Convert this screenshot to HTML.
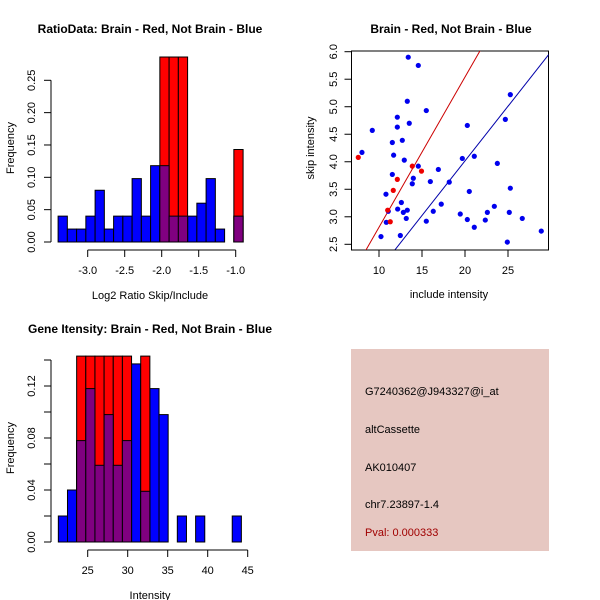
<!DOCTYPE html>
<html><head><meta charset="utf-8"><style>
body{margin:0;background:#fff}
svg{display:block;font-family:"Liberation Sans",sans-serif}
</style></head><body>
<svg id="c" width="600" height="600" viewBox="0 0 600 600" xmlns="http://www.w3.org/2000/svg"></svg>
<script>
// ---- Panel 1: ratio histogram ----
const ratioBreakStart = -3.4;
const ratioBinWidth = 0.125;
const ratioBlue = [0.04,0.02,0.02,0.04,0.08,0.02,0.04,0.04,0.098,0.04,0.118,0.118,0.04,0.04,0.04,0.06,0.098,0.02,0,0.04];
const ratioRed  = [0,0,0,0,0,0,0,0,0,0,0,0.286,0.286,0.286,0,0,0,0,0,0.143];
const ratioXTicks = [-3.0,-2.5,-2.0,-1.5,-1.0];
const ratioXTickLabels = ["-3.0","-2.5","-2.0","-1.5","-1.0"];
const ratioYTicks = [0,0.05,0.10,0.15,0.20,0.25];
const ratioYTickLabels = ["0.00","0.05","0.10","0.15","0.20","0.25"];
// ---- Panel 2: scatter ----
const blueX = [8.02,9.22,10.23,10.81,10.85,11.08,11.55,11.55,11.7,12.13,12.13,12.17,12.48,12.6,12.71,12.83,12.94,13.17,13.29,13.29,13.4,13.52,13.87,13.99,14.57,14.57,15.5,15.5,15.97,16.31,16.9,17.24,18.17,19.45,19.69,20.27,20.27,20.5,21.08,21.08,22.36,22.6,23.41,23.76,24.69,24.92,25.15,25.27,25.27,26.66,28.87];
const blueY = [4.17,4.57,2.64,3.41,2.90,3.10,4.35,3.77,4.12,4.81,4.63,3.14,2.66,3.26,4.39,3.08,4.03,2.97,3.12,5.10,5.90,4.70,3.60,3.70,3.92,5.75,4.93,2.92,3.64,3.10,3.86,3.23,3.63,3.05,4.06,4.66,2.95,3.46,4.10,2.81,2.94,3.08,3.19,3.97,4.77,2.54,3.08,3.52,5.22,2.97,2.74];
const redX = [7.59,11.31,11.01,11.66,12.13,13.87,14.94];
const redY = [4.08,2.91,3.12,3.48,3.68,3.92,3.83];
const redLine = [0.08,0.273];   // intercept, slope
const blueLine = [0.046,0.1985];
const scatXTicks = [10,15,20,25];
const scatXTickLabels = ["10","15","20","25"];
const scatYTicks = [2.5,3.0,3.5,4.0,4.5,5.0,5.5,6.0];
const scatYTickLabels = ["2.5","3.0","3.5","4.0","4.5","5.0","5.5","6.0"];
// ---- Panel 3: intensity histogram ----
const intBreakStart = 21.33;
const intBinWidth = 1.144;
const intBlue = [0.02,0.04,0.078,0.118,0.059,0.098,0.059,0.078,0.137,0.039,0.118,0.098,0,0.02,0,0.02,0,0,0,0.02];
const intRed  = [0,0,0.143,0.143,0.143,0.143,0.143,0.143,0,0.143,0,0,0,0,0,0,0,0,0,0];
const intXTicks = [25,30,35,40,45];
const intXTickLabels = ["25","30","35","40","45"];
const intYTicks = [0,0.02,0.04,0.06,0.08,0.10,0.12,0.14];
const intYTickLabels = ["0.00","","0.04","","0.08","","0.12",""];

const NS="http://www.w3.org/2000/svg";
const svg=document.getElementById('c');
function mk(tag,attrs,parent,txt){const e=document.createElementNS(NS,tag);for(const k in attrs)e.setAttribute(k,attrs[k]);if(txt!==undefined)e.textContent=txt;(parent||svg).appendChild(e);return e;}
function lin(d0,d1,p0,p1){return v=>p0+(v-d0)*(p1-p0)/(d1-d0);}

function text(x,y,s,opt,parent,name){
  const t=mk('text',Object.assign({x:x,y:y,'font-size':11,'text-anchor':'middle',fill:'#000'},opt||{}),parent,s);
  
  
  return t;
}

function xAxis(g,sx,ticks,labels,y,lblY){
  const ax=mk('g',{},g);
  
  
  mk('line',{x1:sx(ticks[0]),x2:sx(ticks[ticks.length-1]),y1:y,y2:y,stroke:'#000'},ax);
  ticks.forEach((t,i)=>{
    mk('line',{x1:sx(t),x2:sx(t),y1:y,y2:y+7,stroke:'#000'},ax);
    if(labels[i])text(sx(t),lblY,labels[i],{},ax,'x-tick-label');
  });
}
function yAxis(g,sy,ticks,labels,x,lblX){
  const ax=mk('g',{},g);
  
  
  mk('line',{x1:x,x2:x,y1:sy(ticks[0]),y2:sy(ticks[ticks.length-1]),stroke:'#000'},ax);
  ticks.forEach((t,i)=>{
    mk('line',{x1:x-7,x2:x,y1:sy(t),y2:sy(t),stroke:'#000'},ax);
    if(labels[i])text(lblX,sy(t),labels[i],{transform:`rotate(-90 ${lblX} ${sy(t)})`},ax,'y-tick-label');
  });
}
function hist(g,sx,sy,start,w,blue,red){
  const bars=(vals,color,name)=>vals.forEach((v,i)=>{
    if(v<=0)return;
    const x0=sx(start+i*w),x1=sx(start+(i+1)*w);
    const r=mk('rect',{x:x0,y:sy(v),width:x1-x0,height:sy(0)-sy(v),fill:color,stroke:'#000','stroke-width':1},g);
    
    
  });
  bars(blue,'#0000ff','bar-not-brain');
  bars(red,'#ff0000','bar-brain');
  bars(blue.map((b,i)=>Math.min(b,red[i])),'#800080','bar-overlap');
}

// Panel 1
{
  const g=mk('g',{});
  
  
  const sx=lin(-3,-1,87.7,235.7), sy=lin(0,0.25,242,80.3);
  hist(g,sx,sy,ratioBreakStart,ratioBinWidth,ratioBlue,ratioRed);
  xAxis(g,sx,ratioXTicks,ratioXTickLabels,250,274);
  yAxis(g,sy,ratioYTicks,ratioYTickLabels,51,35);
  text(150,33,'RatioData: Brain - Red, Not Brain - Blue',{'font-size':12,'font-weight':'bold'},g,'ratio-title');
  text(150,299,'Log2 Ratio Skip/Include',{},g,'ratio-x-title');
  text(14,148,'Frequency',{transform:'rotate(-90 14 148)'},g,'ratio-y-title');
}
// Panel 2
{
  const g=mk('g',{});
  
  
  const sx=lin(10,25,379,508), sy=lin(2.5,6.0,244.3,51.7);
  const box=mk('rect',{x:351.5,y:51,width:197,height:199,fill:'none',stroke:'#000'},g);
  
  
  const clip=mk('clipPath',{id:'cp'},g);
  mk('rect',{x:351.5,y:51,width:197,height:199},clip);
  const lg=mk('g',{'clip-path':'url(#cp)'},g);
  const xa=6.5,xb=30;
  const l1=mk('line',{x1:sx(xa),y1:sy(redLine[0]+redLine[1]*xa),x2:sx(xb),y2:sy(redLine[0]+redLine[1]*xb),stroke:'#cc0000'},lg);
  
  
  const l2=mk('line',{x1:sx(xa),y1:sy(blueLine[0]+blueLine[1]*xa),x2:sx(xb),y2:sy(blueLine[0]+blueLine[1]*xb),stroke:'#0000aa'},lg);
  
  
  blueX.forEach((x,i)=>{const c=mk('circle',{cx:sx(x),cy:sy(blueY[i]),r:2.6,fill:'#0000ee'},g);
    
    });
  redX.forEach((x,i)=>{const c=mk('circle',{cx:sx(x),cy:sy(redY[i]),r:2.6,fill:'#ee0000'},g);
    
    });
  xAxis(g,sx,scatXTicks,scatXTickLabels,250,274);
  yAxis(g,sy,scatYTicks,scatYTickLabels,351.5,337);
  text(451,33,'Brain - Red, Not Brain - Blue',{'font-size':12,'font-weight':'bold'},g,'scatter-title');
  text(449,298,'include intensity',{},g,'scatter-x-title');
  text(314,148,'skip intensity',{transform:'rotate(-90 314 148)'},g,'scatter-y-title');
}
// Panel 3
{
  const g=mk('g',{});
  
  
  const sx=lin(25,45,87.7,247.7), sy=lin(0,0.12,542,386);
  hist(g,sx,sy,intBreakStart,intBinWidth,intBlue,intRed);
  xAxis(g,sx,intXTicks,intXTickLabels,550,574);
  yAxis(g,sy,intYTicks,intYTickLabels,51,35);
  text(150,333,'Gene Itensity: Brain - Red, Not Brain - Blue',{'font-size':12,'font-weight':'bold'},g,'intensity-title');
  text(150,599,'Intensity',{},g,'intensity-x-title');
  text(14,448,'Frequency',{transform:'rotate(-90 14 448)'},g,'intensity-y-title');
}
// Panel 4: info box
{
  const g=mk('g',{});
  
  
  mk('rect',{x:351,y:349,width:198,height:202,fill:'#e6c7c1'},g);
  const lines=[['G7240362@J943327@i_at',395,'#000','probe-id'],['altCassette',433,'#000','event-type'],['AK010407',471,'#000','accession'],['chr7.23897-1.4',508,'#000','location'],['Pval: 0.000333',536,'#a00000','p-value']];
  lines.forEach(l=>text(365,l[1],l[0],{'text-anchor':'start',fill:l[2]},g,l[3]));
}
</script>
</body></html>
